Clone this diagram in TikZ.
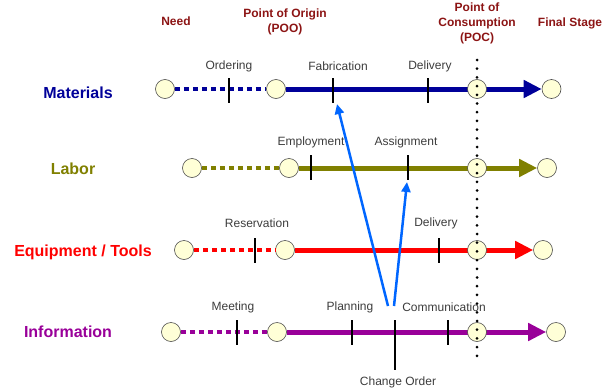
\documentclass[tikz,border=0pt]{standalone}
\usepackage{fontspec}
\setmainfont{Liberation Sans}
\usetikzlibrary{arrows.meta}
\definecolor{hdr}{RGB}{140,20,20}
\definecolor{cream}{RGB}{255,255,215}
\definecolor{matc}{RGB}{0,0,153}
\definecolor{labc}{RGB}{128,128,0}
\definecolor{eqc}{RGB}{255,0,0}
\definecolor{infc}{RGB}{153,0,153}
\definecolor{lblc}{RGB}{60,60,60}
\definecolor{chg}{RGB}{0,102,255}
\begin{document}
\begin{tikzpicture}[x=1pt,y=-1pt,
  stage/.style={circle,draw=black!70,fill=cream,minimum size=19pt,inner sep=0pt,line width=0.6pt},
  tickbar/.style={rectangle,fill=black,minimum width=2.6pt,minimum height=25pt,inner sep=0pt},
  longbar/.style={rectangle,fill=black,minimum width=2.6pt,minimum height=50pt,inner sep=0pt},
  hdrtext/.style={text=hdr,font=\fontsize{12}{15}\selectfont\bfseries,align=center,inner sep=0pt},
  rowtext/.style={font=\fontsize{16}{19}\selectfont\bfseries,inner sep=0pt},
  smalltext/.style={text=lblc,font=\fontsize{12}{14}\selectfont,inner sep=0pt},
  preline/.style={line width=4.5pt,dash pattern=on 5pt off 4pt},
  mainline/.style={line width=5pt,-{Triangle[length=18pt,width=17pt]}},
  changearrow/.style={draw=chg,line width=2.5pt,-{Triangle[length=10pt,width=9pt]}},
  poc/.style={line width=3pt,line cap=round,dash pattern=on 0pt off 8.7pt}
]
\useasboundingbox (0,0) rectangle (605,391);

% headers
\node[hdrtext] (hneed) at (176,21) {Need};
\node[hdrtext] (hpoo) at (285,21.5) {Point of Origin\\(POO)};
\node[hdrtext] (hpoc) at (477,23) {Point of\\Consumption\\(POC)};
\node[hdrtext] (hfin) at (570,23) {Final Stage};

% row labels
\node[rowtext,text=matc] (lmat) at (78,93) {Materials};
\node[rowtext,text=labc] (llab) at (73,169) {Labor};
\node[rowtext,text=eqc] (leq) at (83,252) {Equipment / Tools};
\node[rowtext,text=infc] (linf) at (68,332) {Information};

% ---------- Materials ----------
\node[stage] (mneed) at (165,89) {};
\node[stage] (mpoo) at (276,89) {};
\node[stage] (mfin) at (551.5,89) {};
\draw[matc,preline] (mneed) -- (mpoo);
\draw[matc,mainline] (mpoo) -- (mfin);
\node[stage] (mpoc) at (477,89) {};
\node[tickbar] (mt1) at (229,90) {};
\node[tickbar] (mt2) at (333,90) {};
\node[tickbar] (mt3) at (428,90) {};
\node[smalltext] (mord) at (229,66) {Ordering};
\node[smalltext] (mfab) at (338,66) {Fabrication};
\node[smalltext] (mdel) at (430,66) {Delivery};

% ---------- Labor ----------
\node[stage] (lneed) at (192,168) {};
\node[stage] (lpoo) at (289,168) {};
\node[stage] (lfin) at (547,168) {};
\draw[labc,preline] (lneed) -- (lpoo);
\draw[labc,mainline] (lpoo) -- (lfin);
\node[stage] (lpoc) at (477,168) {};
\node[tickbar] (lt1) at (311,167.5) {};
\node[tickbar] (lt2) at (408,167.5) {};
\node[smalltext] (lemp) at (311,142) {Employment};
\node[smalltext] (lass) at (406,142) {Assignment};

% ---------- Equipment ----------
\node[stage] (eneed) at (184,250) {};
\node[stage] (epoo) at (285,250) {};
\node[stage] (efin) at (543,250) {};
\draw[eqc,preline] (eneed) -- (epoo);
\draw[eqc,mainline] (epoo) -- (efin);
\node[stage] (epoc) at (477,250) {};
\node[tickbar] (et1) at (255,250.5) {};
\node[tickbar] (et2) at (439,250.5) {};
\node[smalltext] (eres) at (257,223.5) {Reservation};
\node[smalltext] (edel) at (436,223.5) {Delivery};

% ---------- Information ----------
\node[stage] (ineed) at (171,332) {};
\node[stage] (ipoo) at (277,332) {};
\node[stage] (ifin) at (556,332) {};
\draw[infc,preline] (ineed) -- (ipoo);
\draw[infc,mainline] (ipoo) -- (ifin);
\node[stage] (ipoc) at (477,332) {};
\node[tickbar] (it1) at (237,332.5) {};
\node[tickbar] (it2) at (352,332.5) {};
\node[longbar] (it3) at (395,345) {};
\node[tickbar] (it4) at (448,332.5) {};
\node[smalltext] (imee) at (233,307) {Meeting};
\node[smalltext] (ipla) at (350,307) {Planning};
\node[smalltext] (icom) at (444,307) {Communication};
\node[smalltext] (icho) at (398,382) {Change Order};

% point of consumption line
\coordinate (poctop) at (477,60);
\coordinate (pocbot) at (477,364);
\draw[poc] (poctop) -- (pocbot);

% change order arrows
\coordinate (c1s) at (388,306);
\coordinate (c1e) at (337,104);
\coordinate (c2s) at (394,306);
\coordinate (c2e) at (407,182);
\draw[changearrow] (c1s) -- (c1e);
\draw[changearrow] (c2s) -- (c2e);
\end{tikzpicture}
\end{document}
